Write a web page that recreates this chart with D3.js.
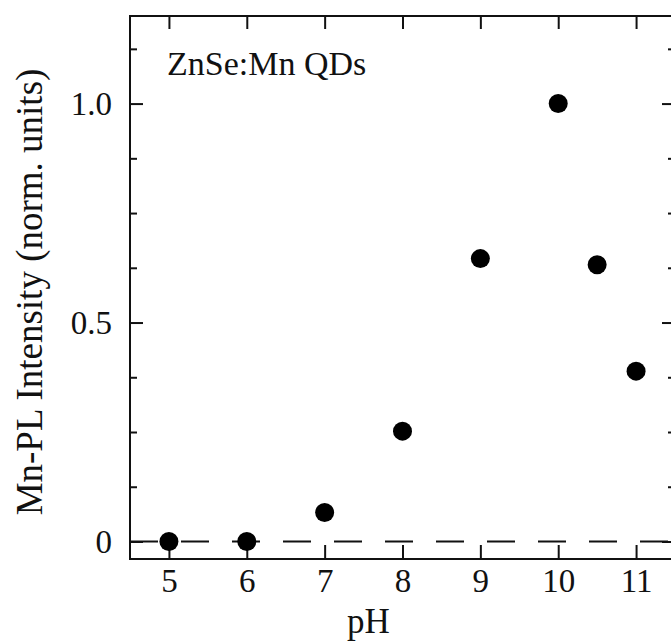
<!DOCTYPE html>
<html>
<head>
<meta charset="utf-8">
<script src="https://cdn.jsdelivr.net/npm/d3@7"></script>
<style>
  body { margin: 0; background: #fff; }
  svg text { font-family: "Liberation Serif", "DejaVu Serif", serif; fill: #111; }
</style>
</head>
<body>
<article></article>
<script>
// data
const ph = [5, 6, 7, 8, 9, 10, 10.5, 11]
const intensity = [0, 0, 0.066, 0.252, 0.646, 1.0, 0.632, 0.389]
const xTicks = [5, 6, 7, 8, 9, 10, 11]
const yTicks = [0, 0.5, 1.0]
const yTickLabels = ['0', '0.5', '1.0']
const yMinorTicks = [0, 0.125, 0.25, 0.375, 0.5, 0.625, 0.75, 0.875, 1.0, 1.125]

const m = { width: 671, height: 644, left: 130, top: 16, right: 675, bottom: 559 }

const svg = d3.select('article').append('svg')
    .attr('width', m.width)
    .attr('height', m.height)

const x = d3.scaleLinear().domain([4.5, 11.5]).range([m.left, m.right])
const y = d3.scaleLinear().domain([-0.04, 1.2]).range([m.bottom, m.top])

const g = svg.append('g')

// dashed zero line
g.append('line')
    .attr('x1', m.left)
    .attr('x2', m.right)
    .attr('y1', y(0))
    .attr('y2', y(0))
    .attr('stroke', '#111')
    .attr('stroke-width', 2)
    .attr('stroke-dasharray', '28,23')

function styleAxis(sel) {
    sel.select('.domain').remove()
    sel.selectAll('.tick line').attr('stroke', '#111').attr('stroke-width', 2)
    sel.selectAll('text').attr('fill', '#111').style('font-family', '"Liberation Serif", serif')
}

// bottom axis, ticks pointing inward
g.append('g')
    .attr('transform', `translate(0,${m.bottom})`)
    .call(d3.axisBottom(x).tickValues(xTicks).tickSizeInner(-14).tickSizeOuter(0).tickPadding(10).tickFormat(d3.format('d')))
    .call(styleAxis)
    .selectAll('text').style('font-size', '33px')

// top axis, no labels
g.append('g')
    .attr('transform', `translate(0,${m.top})`)
    .call(d3.axisTop(x).tickValues(xTicks).tickSizeInner(-13).tickSizeOuter(0).tickFormat(''))
    .call(styleAxis)

// left axis major + labels
g.append('g')
    .attr('transform', `translate(${m.left},0)`)
    .call(d3.axisLeft(y).tickValues(yTicks).tickSizeInner(-13).tickSizeOuter(0).tickPadding(18)
        .tickFormat((d, i) => yTickLabels[i]))
    .call(styleAxis)
    .selectAll('text').style('font-size', '33px')

// left minor ticks
g.append('g')
    .attr('transform', `translate(${m.left},0)`)
    .call(d3.axisLeft(y).tickValues(yMinorTicks.filter(d => yTicks.indexOf(d) < 0)).tickSizeInner(-7).tickSizeOuter(0).tickFormat(''))
    .call(styleAxis)

// right axis major + minor
g.append('g')
    .attr('transform', `translate(${m.right},0)`)
    .call(d3.axisRight(y).tickValues(yTicks).tickSizeInner(-13).tickSizeOuter(0).tickFormat(''))
    .call(styleAxis)
g.append('g')
    .attr('transform', `translate(${m.right},0)`)
    .call(d3.axisRight(y).tickValues(yMinorTicks.filter(d => yTicks.indexOf(d) < 0)).tickSizeInner(-7).tickSizeOuter(0).tickFormat(''))
    .call(styleAxis)

// frame
g.append('rect')
    .attr('x', m.left)
    .attr('y', m.top)
    .attr('width', m.right - m.left)
    .attr('height', m.bottom - m.top)
    .attr('fill', 'none')
    .attr('stroke', '#111')
    .attr('stroke-width', 2)

// points
g.selectAll('.dot')
    .data(ph)
    .enter()
    .append('circle')
    .attr('class', 'dot')
    .attr('cx', d => x(d))
    .attr('cy', (d, i) => y(intensity[i]))
    .attr('r', 9.5)
    .attr('fill', '#000')

// labels
svg.append('text')
    .attr('x', (m.left + m.right) / 2 - 34)
    .attr('y', 633)
    .attr('text-anchor', 'middle')
    .style('font-size', '35px')
    .text('pH')

svg.append('text')
    .attr('transform', 'translate(42,292) rotate(-90)')
    .attr('text-anchor', 'middle')
    .style('font-size', '37px')
    .text('Mn-PL Intensity (norm. units)')

svg.append('text')
    .attr('x', 167)
    .attr('y', 75)
    .style('font-size', '34px')
    .text('ZnSe:Mn QDs')
</script>
</body>
</html>
